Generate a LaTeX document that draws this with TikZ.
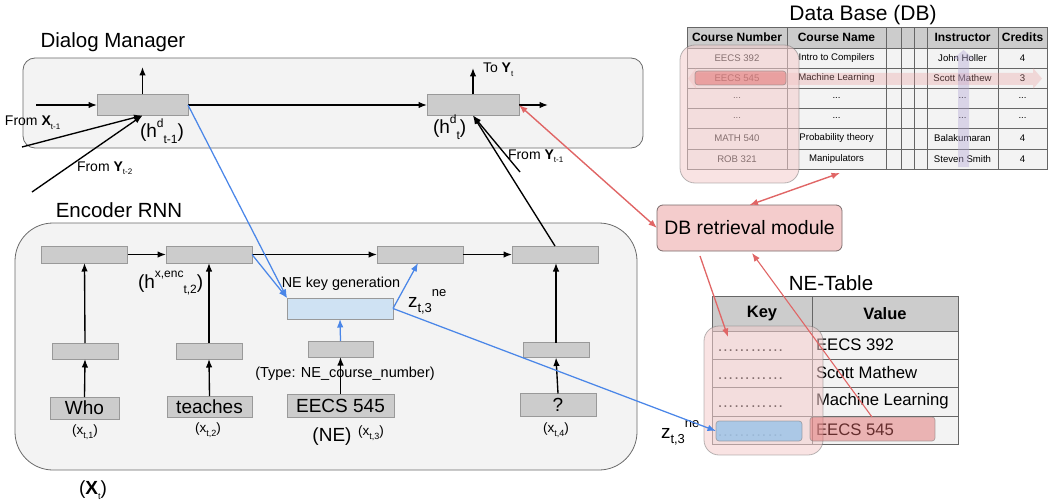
\documentclass[tikz,border=0pt]{standalone}
\usepackage{fontspec}
\setmainfont{Liberation Sans}
\usetikzlibrary{arrows.meta,calc}

\definecolor{panelfill}{HTML}{F3F3F3}
\definecolor{panelline}{HTML}{6A6A6A}
\definecolor{boxfill}{HTML}{CCCCCC}
\definecolor{boxline}{HTML}{999999}
\definecolor{tableline}{HTML}{666666}
\definecolor{keyfill}{HTML}{CFE2F3}
\definecolor{keyhit}{HTML}{9FC5E8}
\definecolor{linkblue}{HTML}{4A86E8}
\definecolor{linkred}{HTML}{E06666}
\definecolor{retfill}{HTML}{F4CCCC}
\definecolor{retline}{HTML}{7A6A6A}
\definecolor{lav}{HTML}{B4A7D6}

% font size helper, sub- and superscripts in the running font
\newcommand\fs[1]{\fontsize{#1}{#1}\selectfont}
\newcommand\sbs[2]{\raisebox{-0.28em}{\fs{#1}#2}}
\newcommand\sps[2]{\raisebox{0.55em}{\fs{#1}#2}}

% one row of the course table: name, top, bottom, style, four texts
\newcommand\dbrow[8]{%
  \foreach \xa/\xb/\tx [count=\c] in {687/787/{#5},787/886/{#6},886/901/{},901/914/{},914/927/{},927/998/{#7},998/1047/{#8}}{%
    \node[#4, minimum width={(\xb-\xa)*1pt}, minimum height={(#3-#2)*1pt}] (db-#1-\c) at ({(\xa+\xb)/2},{(#2+#3)/2}) {\tx};
  }%
}

\begin{document}
\begin{tikzpicture}[x=1pt,y=-1pt,
  every node/.style={inner sep=0pt,outer sep=0pt},
  >={Latex[length=8.5pt,width=6.5pt]},
  panel/.style={draw=panelline,fill=panelfill,line width=0.8pt},
  gbox/.style={draw=boxline,fill=boxfill,line width=0.8pt},
  word/.style={gbox,font=\fs{19}},
  dbhead/.style={draw=tableline,fill=boxfill,line width=0.8pt,font=\fs{12}\bfseries},
  dbbody/.style={draw=tableline,fill=panelfill,line width=0.8pt,font=\fs{9.6}},
  necell/.style={draw=tableline,fill=panelfill,line width=0.8pt},
  nehead/.style={draw=tableline,fill=boxfill,line width=0.8pt,font=\fs{16.5}\bfseries},
  arr/.style={->,line width=1.35pt,draw=black},
  barr/.style={->,line width=1.25pt,draw=linkblue},
  rarr/.style={->,line width=1.3pt,draw=linkred},
  rboth/.style={<->,line width=1.4pt,draw=linkred},
  overlay pink/.style={fill=retfill,fill opacity=0.55,draw=black!55,draw opacity=0.5,line width=0.8pt,rounded corners=15pt},
]
\useasboundingbox (0,0) rectangle (1049,500);

% ---------- titles ----------
\node[font=\fs{20.5}] (t-dm) at (113,42) {Dialog Manager};
\node[font=\fs{20.5}] (t-enc) at (119,210) {Encoder RNN};
\node[font=\fs{21}] (t-db) at (863,15) {Data Base (DB)};
\node[font=\fs{20.5}] (t-ne) at (831,283) {NE-Table};

% ---------- panels ----------
\node[panel,rounded corners=12pt,minimum width=620pt,minimum height=90pt] (dm) at (333,103) {};
\node[panel,rounded corners=38pt,minimum width=622pt,minimum height=247pt] (enc) at (326,346.5) {};

% ---------- dialog manager ----------
\node[gbox,minimum width=91pt,minimum height=21pt] (hd1) at (142.5,105) {};
\node[gbox,minimum width=92pt,minimum height=21pt] (hd2) at (473,105) {};
\coordinate (dm-in) at (36,105);
\coordinate (hd1-out) at (142.5,67);
\coordinate (hd2-out) at (473,68);
\coordinate (hd2-right) at (548,105);
\coordinate (fromX) at (22,147);
\coordinate (fromY2) at (32,192);
\coordinate (fromY1) at (520,172);

\node[font=\fs{19},anchor=base west] (l-hd1) at (140,138) {(h\sps{12}{d}\sbs{12}{t-1})};
\node[font=\fs{19},anchor=base west] (l-hd2) at (433,134) {(h\sps{12}{d}\sbs{12}{t})};
\node[font=\fs{14},anchor=base west] (l-fx) at (5,126) {From \textbf{X}\sbs{8}{t-1}};
\node[font=\fs{14},anchor=base west] (l-fy2) at (77,171) {From \textbf{Y}\sbs{8}{t-2}};
\node[font=\fs{14},anchor=base west] (l-fy1) at (508,159) {From \textbf{Y}\sbs{8}{t-1}};
\node[font=\fs{14},anchor=base west] (l-to) at (483,73) {To \textbf{Y}\sbs{8}{t}};

% ---------- encoder ----------
\foreach \n/\x in {e1/84.5,e2/209,e3/420,e4/555}
  \node[gbox,minimum width=86pt,minimum height=17pt] (\n) at (\x,254.5) {};
\node[gbox,minimum width=66pt,minimum height=16pt] (m1) at (85,351) {};
\node[gbox,minimum width=66pt,minimum height=16pt] (m2) at (209,351) {};
\node[gbox,minimum width=65pt,minimum height=16pt] (m3) at (340.5,349) {};
\node[gbox,minimum width=66pt,minimum height=15pt] (m4) at (556,350) {};
\node[word,minimum width=69pt,minimum height=22pt] (w1) at (84.5,408) {Who};
\node[word,minimum width=85pt,minimum height=21pt] (w2) at (209.5,406.5) {teaches};
\node[word,minimum width=107pt,minimum height=23pt] (w3) at (340.5,405.5) {EECS 545};
\node[word,minimum width=76pt,minimum height=23pt] (w4) at (558,405) {?};
\node[draw=boxline,fill=keyfill,line width=0.8pt,minimum width=106pt,minimum height=21pt] (keygen) at (340,308.5) {};

\node[font=\fs{14.4}] (l-keygen) at (341,284) {NE key generation};
\node[font=\fs{14.5}] (l-type) at (345,374) {(Type: NE\_course\_number)};
\node[font=\fs{19},anchor=base west] (l-henc) at (138,288) {(h\sps{12}{x,enc}\sbs{12}{t,2})};
\node[font=\fs{19},anchor=base west] (l-z1) at (408,307) {z\sbs{13}{t,3}\sps{13}{ne}};
\node[font=\fs{13.5}] (l-x1) at (85,432) {(x\sbs{9}{t,1})};
\node[font=\fs{13.5}] (l-x2) at (208,430) {(x\sbs{9}{t,2})};
\node[font=\fs{19}] (l-ne) at (332,437) {(NE)};
\node[font=\fs{13.5}] (l-x3) at (371,433) {(x\sbs{9}{t,3})};
\node[font=\fs{13.5}] (l-x4) at (556,430) {(x\sbs{9}{t,4})};
\node[font=\fs{19}] (l-X) at (93,490) {(\textbf{X}\sbs{9}{t})};

% ---------- course table ----------
\dbrow{0}{27}{48}{dbhead}{Course Number}{Course Name}{Instructor}{Credits}
\dbrow{1}{48}{68}{dbbody}{EECS 392}{Intro to Compilers}{John Holler}{4}
\dbrow{2}{68}{88}{dbbody}{EECS 545}{Machine Learning}{Scott Mathew}{3}
\dbrow{3}{88}{108}{dbbody}{...}{...}{...}{...}
\dbrow{4}{108}{128}{dbbody}{...}{...}{...}{...}
\dbrow{5}{128}{149}{dbbody}{MATH 540}{Probability theory}{Balakumaran}{4}
\dbrow{6}{149}{169}{dbbody}{ROB 321}{Manipulators}{Steven Smith}{4}

% row and column highlights
\fill[fill={rgb,255:red,234;green,153;blue,153},fill opacity=0.3]
  (688,78.5) -- (696,68) -- (696,73) -- (1033,73) -- (1033,68) -- (1042,78.5)
  -- (1033,89) -- (1033,85) -- (696,85) -- (696,89) -- cycle;
\fill[fill=lav,fill opacity=0.4]
  (963.5,50) -- (974,59) -- (969,59) -- (969,167) -- (958,167) -- (958,59) -- (953,59) -- cycle;
\node[overlay pink,minimum width=119pt,minimum height=138pt] (db-keys) at (739.5,114) {};
\node[fill=linkred,fill opacity=0.45,draw=black!50,draw opacity=0.6,rounded corners=3pt,line width=0.7pt,
      minimum width=91pt,minimum height=14pt] (db-hit) at (740.5,78) {};

% ---------- DB retrieval ----------
\node[draw=retline,fill=retfill,rounded corners=6pt,line width=0.8pt,minimum width=185pt,minimum height=46pt,font=\fs{19.4}] (ret) at (749.5,228) {DB retrieval module};

% ---------- NE table ----------
\node[nehead,minimum width=100pt,minimum height=35pt] (ne-0-1) at (762,313.5) {Key};
\node[nehead,minimum width=146pt,minimum height=35pt] (ne-0-2) at (885,313.5) {Value};
\foreach \r/\ya/\yb/\val in {1/331/359/{EECS 392},2/359/387/{Scott Mathew},3/387/416/{Machine Learning},4/416/444/{EECS 545}}{
  \node[necell,minimum width=100pt,minimum height={(\yb-\ya)*1pt}] (ne-\r-1) at (762,{(\ya+\yb)/2}) {};
  \node[necell,minimum width=146pt,minimum height={(\yb-\ya)*1pt}] (ne-\r-2) at (885,{(\ya+\yb)/2}) {};
  \node[font=\fs{16.7},anchor=base west] (ne-k-\r) at (717,{(\ya+\yb)/2+6}) {…………};
  \node[font=\fs{16.7},anchor=west] (ne-v-\r) at (816,{(\ya+\yb)/2}) {\val};
}
\node[overlay pink,minimum width=119pt,minimum height=129pt] (ne-keys) at (763.5,390.5) {};
\node[fill=keyhit,fill opacity=0.85,draw=black!50,draw opacity=0.6,rounded corners=3pt,line width=0.7pt,
      minimum width=86pt,minimum height=20pt] (ne-hitkey) at (759,431) {};
\node[fill=linkred,fill opacity=0.45,draw=black!50,draw opacity=0.6,rounded corners=3pt,line width=0.7pt,
      minimum width=125pt,minimum height=24pt] (ne-hitval) at (872.5,429) {};
\node[font=\fs{19},anchor=base west] (l-z2) at (661,438) {z\sbs{13}{t,3}\sps{13}{ne}};

% ---------- connectors: dialog manager ----------
\draw[arr] (dm-in) -- (hd1.west);
\draw[arr] (hd1.north) -- (hd1-out);
\draw[arr] (hd1.east) -- (hd2.west);
\draw[arr] (hd2.north) -- (hd2-out);
\draw[arr] (hd2.east) -- (hd2-right);
\draw[arr] (fromX) -- (hd1.south);
\draw[arr] (fromY2) -- (hd1.south);
\draw[arr] (fromY1) -- (hd2.south);
\draw[arr] (e4.north) -- (hd2.south);

% ---------- connectors: encoder ----------
\draw[arr] (e1.east) -- (e2.west);
\draw[arr] (e2.east) -- (e3.west);
\draw[arr] (e3.east) -- (e4.west);
\foreach \k in {1,2,4}{
  \draw[arr] (w\k.north) -- (m\k.south);
}
\draw[arr] (m1.north) -- (e1.south);
\draw[arr] (m2.north) -- (e2.south);
\draw[arr] (m4.north) -- (m4.north |- e4.south);
\draw[arr] (w3.north) -- (m3.south);
\draw[barr] (m3.north) -- (keygen.south);
\draw[barr] (hd1.east) -- (keygen.north west);
\draw[barr] (e2.east) -- (keygen.north west);
\draw[barr] (keygen.east) -- ($(e3.south)+(-2,0)$);
\draw[barr] (keygen.east) -- (ne-hitkey.west);

% ---------- connectors: retrieval ----------
\coordinate (db-foot) at (840,173);
\coordinate (ret-out) at (700,256);
\coordinate (ret-in) at (752,253);
\coordinate (ne-hit) at (728,337);
\coordinate (ne-src) at (872,417);
\draw[rboth] (hd2.east) -- (ret.west);
\draw[rboth] (ret.north) -- (db-foot);
\draw[rarr] (ret-out) -- (ne-hit);
\draw[rarr,line width=1.1pt] (ne-src) -- (ret-in);
\end{tikzpicture}
\end{document}
